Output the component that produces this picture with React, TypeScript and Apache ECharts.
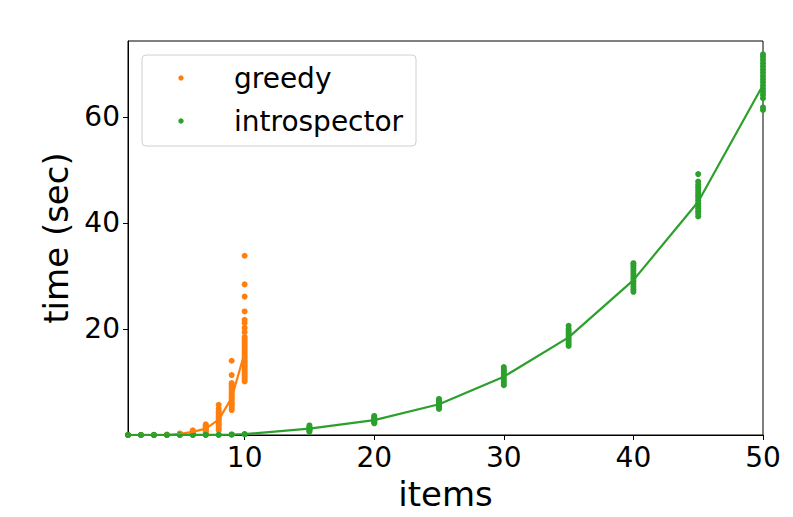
import React, { useEffect, useRef } from "react";
import * as echarts from "echarts";

// x positions (number of items)
const greedyItems = [1, 2, 3, 4, 5, 6, 7, 8, 9, 10];
// individual greedy runs per item count
const greedyRuns: number[][] = [
  [0.0, 0.0, 0.01],
  [0.0, 0.01, 0.01],
  [0.01, 0.02, 0.02],
  [0.03, 0.05, 0.08],
  [0.1, 0.15, 0.2, 0.3],
  [0.2, 0.3, 0.4, 0.5, 0.6, 0.7, 0.9],
  [0.4, 0.6, 0.8, 1.0, 1.2, 1.4, 1.6, 1.8, 2.0],
  [0.9, 1.3, 1.7, 2.0, 2.4, 2.8, 3.1, 3.4, 3.7, 4.1, 4.5, 5.0, 5.7],
  [4.7, 5.1, 5.5, 5.9, 6.2, 6.6, 6.9, 7.3, 7.7, 8.1, 8.5, 8.9, 9.3, 9.6, 9.8, 11.3, 14.0],
  [10.1, 10.5, 10.9, 11.3, 11.7, 12.1, 12.5, 12.9, 13.3, 13.7, 14.1, 14.5, 14.9, 15.3, 15.7, 16.1, 16.5, 16.9, 17.3, 17.7, 18.1, 18.5, 19.4, 20.2, 21.1, 21.7, 23.3, 26.1, 28.4, 33.8],
];
const greedyMean = [0.0, 0.01, 0.02, 0.05, 0.2, 0.6, 1.2, 2.9, 7.0, 15.5];

const introItems = [1, 2, 3, 4, 5, 6, 7, 8, 9, 10, 15, 20, 25, 30, 35, 40, 45, 50];
const introRuns: number[][] = [
  [0.0, 0.01],
  [0.0, 0.01],
  [0.0, 0.01],
  [0.0, 0.01],
  [0.01, 0.02],
  [0.01, 0.02],
  [0.02, 0.03],
  [0.03, 0.05],
  [0.06, 0.1],
  [0.12, 0.18],
  [0.6, 0.8, 1.0, 1.1, 1.2, 1.3, 1.5, 1.8],
  [2.2, 2.4, 2.6, 2.8, 2.9, 3.0, 3.2, 3.4, 3.6],
  [4.9, 5.2, 5.4, 5.6, 5.8, 6.0, 6.2, 6.4, 6.6, 6.8],
  [9.4, 9.8, 10.2, 10.6, 11.0, 11.4, 11.8, 12.1, 12.4, 12.8],
  [16.8, 17.2, 17.6, 18.0, 18.4, 18.8, 19.2, 19.6, 20.0, 20.6],
  [27.0, 27.5, 28.0, 28.5, 29.0, 29.5, 30.0, 30.5, 31.0, 31.5, 32.0, 32.4],
  [41.2, 41.7, 42.2, 42.7, 43.2, 43.7, 44.2, 44.7, 45.2, 45.7, 46.2, 46.7, 47.2, 47.8, 49.2],
  [61.3, 61.8, 63.5, 64.1, 64.7, 65.3, 65.9, 66.5, 67.1, 67.7, 68.3, 68.9, 69.5, 70.1, 70.7, 71.3, 71.8],
];
const introMean = [0.0, 0.0, 0.0, 0.0, 0.01, 0.01, 0.02, 0.04, 0.08, 0.15, 1.2, 2.8, 5.8, 11.0, 18.4, 29.2, 44.0, 66.0];

const xTicks = [10, 20, 30, 40, 50];
const yTicks = [20, 40, 60];
const seriesNames = ["greedy", "introspector"];
const colors = ["#ff7f0e", "#2ca02c"];

const FONT = "DejaVu Sans";

function flatten(items: number[], runs: number[][]): number[][] {
  const out: number[][] = [];
  items.forEach((x, i) => runs[i].forEach((v) => out.push([x, v])));
  return out;
}

export default function App() {
  const ref = useRef<HTMLDivElement>(null);
  useEffect(() => {
    if (!ref.current) return;
    const chart = echarts.init(ref.current, null, { renderer: "svg" });
    const axisCommon = {
      axisLine: { show: true, lineStyle: { color: "#000", width: 1 } },
      axisTick: { show: true, length: 5, lineStyle: { color: "#000", width: 1 } },
      splitLine: { show: false },
      axisLabel: { color: "#000", fontSize: 28, fontFamily: FONT, margin: 8 },
      nameTextStyle: { color: "#000", fontSize: 34, fontFamily: FONT },
      nameLocation: "middle" as const,
    };
    chart.setOption({
      animation: false,
      backgroundColor: "#fff",
      grid: { left: 128, right: 30, top: 41, bottom: 82, show: true, borderColor: "#000", borderWidth: 1 },
      xAxis: {
        ...axisCommon,
        type: "value",
        min: 1,
        max: 50,
        name: "items",
        nameGap: 42,
        axisTick: { ...axisCommon.axisTick, customValues: xTicks },
        axisLabel: { ...axisCommon.axisLabel, customValues: xTicks },
      },
      yAxis: {
        ...axisCommon,
        type: "value",
        min: 0,
        max: 74.3,
        name: "time (sec)",
        nameGap: 52,
        axisTick: { ...axisCommon.axisTick, customValues: yTicks },
        axisLabel: { ...axisCommon.axisLabel, customValues: yTicks },
      },
      series: [
        {
          name: seriesNames[0],
          type: "scatter",
          data: flatten(greedyItems, greedyRuns),
          symbolSize: 6,
          itemStyle: { color: colors[0], opacity: 1 },
          z: 2,
        },
        {
          name: seriesNames[1],
          type: "scatter",
          data: flatten(introItems, introRuns),
          symbolSize: 6,
          itemStyle: { color: colors[1], opacity: 1 },
          z: 2,
        },
        {
          type: "line",
          data: greedyItems.map((x, i) => [x, greedyMean[i]]),
          showSymbol: false,
          lineStyle: { color: colors[0], width: 2.2 },
          z: 3,
        },
        {
          type: "line",
          data: introItems.map((x, i) => [x, introMean[i]]),
          showSymbol: false,
          lineStyle: { color: colors[1], width: 2.2 },
          z: 3,
        },
      ],
      graphic: [
        {
          type: "rect",
          shape: { x: 142, y: 55, width: 274, height: 91, r: 4 },
          style: { fill: "rgba(255,255,255,0.8)", stroke: "#d0d0d0", lineWidth: 1 },
          z: 10,
        },
        { type: "circle", shape: { cx: 181, cy: 78, r: 2.7 }, style: { fill: colors[0] }, z: 11 },
        { type: "circle", shape: { cx: 181, cy: 121, r: 2.7 }, style: { fill: colors[1] }, z: 11 },
        {
          type: "text",
          x: 234,
          y: 78,
          style: { text: seriesNames[0], fontSize: 28, fontFamily: FONT, fill: "#000", verticalAlign: "middle" },
          z: 11,
        },
        {
          type: "text",
          x: 234,
          y: 121,
          style: { text: seriesNames[1], fontSize: 28, fontFamily: FONT, fill: "#000", verticalAlign: "middle" },
          z: 11,
        },
      ],
    });
    return () => chart.dispose();
  }, []);
  return <div ref={ref} style={{ position: "fixed", left: 0, top: 0, width: 793, height: 517 }} />;
}
